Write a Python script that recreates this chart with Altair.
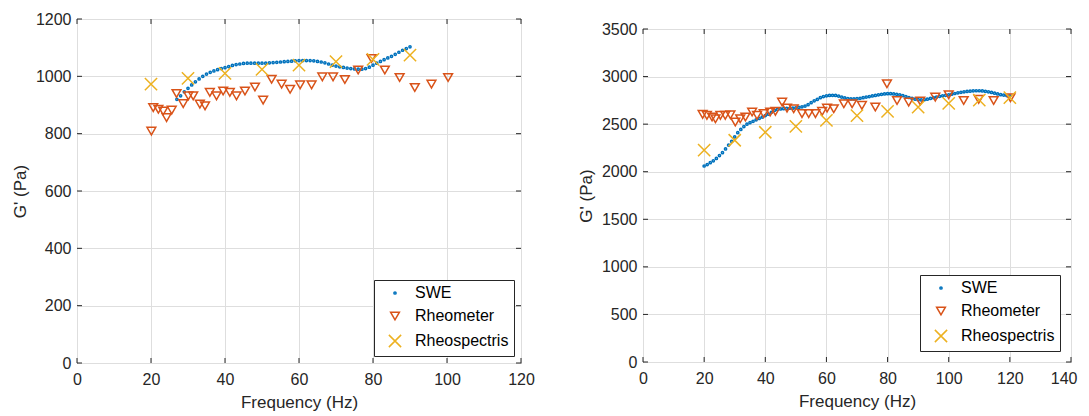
import altair as alt
import pandas as pd

SERIES = ["SWE", "Rheometer", "Rheospectris"]
COLORS = ["#0072BD", "#D95319", "#EDB120"]
SHAPES = ["circle", "triangle-down", "M-1,-1L1,1M1,-1L-1,1"]
SIZES = [5, 150, 105]

# ---------- left panel ----------
L_swe_f = [27, 28, 29, 30, 31, 32, 33, 34, 35, 36, 37, 38, 39, 40, 41, 42, 43, 44, 45, 46,
           47, 48, 49, 50, 51, 52, 53, 54, 55, 56, 57, 58, 59, 60, 61, 62, 63, 64, 65, 66,
           67, 68, 69, 70, 71, 72, 73, 74, 75, 76, 77, 78, 79, 80, 81, 82, 83, 84, 85, 86,
           87, 88, 89, 90]
L_swe_g = [920, 932, 946, 958, 970, 981, 991, 1000, 1008, 1014, 1019, 1023, 1027, 1030, 1034,
           1038, 1041, 1043, 1045, 1046, 1046, 1046, 1046, 1046, 1046, 1047, 1048, 1049, 1050,
           1051, 1052, 1053, 1054, 1055, 1055, 1055, 1055, 1054, 1052, 1050, 1047, 1043, 1039,
           1036, 1033, 1031, 1029, 1027, 1026, 1025, 1025, 1027, 1032, 1039, 1046, 1052, 1058,
           1064, 1070, 1077, 1084, 1091, 1097, 1103]
L_rheo_f = [20.1, 20.6, 22.0, 23.3, 24.2, 25.6, 26.9, 28.7, 30.1, 31.4, 33.2, 34.6, 35.9, 37.7,
            39.5, 41.3, 43.1, 45.4, 48.1, 50.3, 52.6, 55.3, 57.6, 60.3, 63.4, 66.3, 69.2, 72.4,
            76.0, 79.6, 83.2, 87.2, 91.3, 95.8, 100.3]
L_rheo_g = [809, 891, 885, 879, 856, 882, 940, 905, 932, 932, 903, 897, 944, 932, 949, 944, 932,
            949, 963, 917, 990, 973, 955, 970, 970, 998, 998, 989, 1022, 1062, 1022, 996, 961,
            973, 996]
L_spec_f = [20, 30, 40, 50, 60, 70, 80, 90]
L_spec_g = [973, 993, 1010, 1024, 1039, 1051, 1059, 1074]

# ---------- right panel ----------
R_swe_f = [20, 21, 22, 23, 24, 25, 26, 27, 28, 29, 30, 31, 32, 33, 34, 35, 36, 37, 38, 39,
           40, 41, 42, 43, 44, 45, 46, 47, 48, 49, 50, 51, 52, 53, 54, 55, 56, 57, 58, 59,
           60, 61, 62, 63, 64, 65, 66, 67, 68, 69, 70, 71, 72, 73, 74, 75, 76, 77, 78, 79,
           80, 81, 82, 83, 84, 85, 86, 87, 88, 89, 90, 91, 92, 93, 94, 95, 96, 97, 98, 99,
           100, 101, 102, 103, 104, 105, 106, 107, 108, 109, 110, 111, 112, 113, 114, 115,
           116, 117, 118, 119, 120]
R_swe_g = [2060, 2075, 2095, 2115, 2140, 2170, 2200, 2240, 2280, 2320, 2365, 2410, 2445, 2475,
           2500, 2515, 2530, 2545, 2560, 2575, 2590, 2605, 2625, 2645, 2655, 2660, 2662, 2665,
           2667, 2668, 2670, 2675, 2682, 2690, 2705, 2725, 2745, 2760, 2778, 2790, 2798, 2802,
           2803, 2802, 2795, 2785, 2775, 2768, 2765, 2765, 2767, 2772, 2778, 2784, 2790, 2796,
           2802, 2808, 2814, 2818, 2820, 2820, 2817, 2813, 2808, 2800, 2790, 2780, 2770, 2762,
           2757, 2755, 2757, 2762, 2770, 2778, 2785, 2792, 2798, 2803, 2808, 2815, 2822, 2829,
           2835, 2840, 2844, 2847, 2850, 2851, 2851, 2849, 2845, 2840, 2833, 2825, 2817, 2810,
           2805, 2800, 2798]
R_rheo_f = [19.5, 20.9, 22.6, 23.7, 25.3, 26.9, 28.6, 30.2, 31.8, 33.5, 35.7, 37.3, 39.5, 41.6,
            43.3, 45.5, 47.1, 49.3, 52.0, 54.2, 56.4, 58.6, 60.2, 62.4, 65.7, 68.4, 71.6, 76.0,
            79.8, 83.1, 86.9, 90.7, 95.6, 100.0, 104.9, 109.8, 114.7, 120.2]
R_rheo_g = [2603, 2592, 2575, 2557, 2592, 2592, 2599, 2523, 2557, 2575, 2628, 2592, 2610, 2628,
            2634, 2732, 2669, 2662, 2610, 2610, 2610, 2634, 2669, 2662, 2714, 2714, 2697, 2680,
            2924, 2749, 2732, 2743, 2784, 2809, 2749, 2760, 2749, 2777]
R_spec_f = [20, 30, 40, 50, 60, 70, 80, 90, 100, 110, 120]
R_spec_g = [2226, 2331, 2415, 2477, 2540, 2589, 2634, 2678, 2718, 2752, 2778]

X_TICKS_L = [0, 20, 40, 60, 80, 100, 120]
Y_TICKS_L = [0, 200, 400, 600, 800, 1000, 1200]
X_TICKS_R = [0, 20, 40, 60, 80, 100, 120, 140]
Y_TICKS_R = [0, 500, 1000, 1500, 2000, 2500, 3000, 3500]

FONT = "Liberation Sans"
TXT = "#262626"
TICK_LEN = 5


def make_df(sf, sg, rf, rg, pf, pg):
    rows = []
    for f, g in zip(sf, sg):
        rows.append({"f": f, "g": g, "s": "SWE", "o": 0})
    for f, g in zip(rf, rg):
        rows.append({"f": f, "g": g, "s": "Rheometer", "o": 1})
    for f, g in zip(pf, pg):
        rows.append({"f": f, "g": g, "s": "Rheospectris", "o": 2})
    return pd.DataFrame(rows)


def axis(values, title, lp, tp, edge=None):
    extra = {}
    if edge is not None:
        # keep the last label inside the page width
        extra = dict(
            labelAlign=alt.condition(f"datum.value == {edge}", alt.value("right"),
                                     alt.value("center")),
            labelOffset=alt.condition(f"datum.value == {edge}", alt.value(6),
                                      alt.value(0)),
        )
    return alt.Axis(values=values, title=title, grid=True, gridColor="#dedede",
                    gridWidth=1, tickSize=0, domain=False, labelPadding=lp,
                    labelFontSize=16, titleFontSize=17, labelFont=FONT,
                    titleFont=FONT, titleFontWeight="normal", labelColor=TXT,
                    titleColor=TXT, labelFlush=False, labelOverlap=False,
                    titlePadding=tp, format="d", **extra)


def panel(df, xt, yt, w, h, loff, edge=None):
    leg = alt.Legend(title=None, orient="bottom-right", offset=loff,
                     strokeColor="#262626", fillColor="white", padding=5,
                     labelFontSize=16, labelFont=FONT, labelColor="black",
                     rowPadding=7, symbolStrokeWidth=1.5, labelOffset=12,
                     symbolOffset=8, cornerRadius=0)
    xs = alt.Scale(domain=[xt[0], xt[-1]], nice=False)
    ys = alt.Scale(domain=[yt[0], yt[-1]], nice=False)
    xa = axis(xt, "Frequency (Hz)", 8, 7, edge)
    ya = axis(yt, "G' (Pa)", 6, 6)
    X = alt.X("f:Q", scale=xs, axis=xa, title="Frequency (Hz)")
    Y = alt.Y("g:Q", scale=ys, axis=ya, title="G' (Pa)")
    pts = alt.Chart(df).mark_point(filled=False, strokeWidth=1.5, opacity=1).encode(
        x=X, y=Y,
        color=alt.Color("s:N", scale=alt.Scale(domain=SERIES, range=COLORS), legend=leg),
        shape=alt.Shape("s:N", scale=alt.Scale(domain=SERIES, range=SHAPES), legend=leg),
        size=alt.Size("s:N", scale=alt.Scale(domain=SERIES, range=SIZES), legend=leg),
        order=alt.Order("o:Q"),
    )
    xdf = pd.DataFrame({"f": xt})
    ydf = pd.DataFrame({"g": yt})
    rule = dict(color=TXT, strokeWidth=1)
    xb = alt.Chart(xdf).mark_rule(**rule).encode(
        x=X, y=alt.value(h), y2=alt.value(h - TICK_LEN))
    xtp = alt.Chart(xdf).mark_rule(**rule).encode(
        x=X, y=alt.value(0), y2=alt.value(TICK_LEN))
    yl = alt.Chart(ydf).mark_rule(**rule).encode(
        y=Y, x=alt.value(0), x2=alt.value(TICK_LEN))
    yr = alt.Chart(ydf).mark_rule(**rule).encode(
        y=Y, x=alt.value(w - TICK_LEN), x2=alt.value(w))
    return alt.layer(pts, xb, xtp, yl, yr).properties(width=w, height=h)


left = panel(make_df(L_swe_f, L_swe_g, L_rheo_f, L_rheo_g, L_spec_f, L_spec_g),
             X_TICKS_L, Y_TICKS_L, 444, 344, 7)
right = panel(make_df(R_swe_f, R_swe_g, R_rheo_f, R_rheo_g, R_spec_f, R_spec_g),
              X_TICKS_R, Y_TICKS_R, 428, 333, 11, edge=X_TICKS_R[-1])

# thin empty spacer above the right panel (its frame starts lower than the left one)
spacer = alt.Chart(pd.DataFrame({"a": [0]})).mark_point(opacity=0, size=0, strokeWidth=0).encode(
    x=alt.value(0), y=alt.value(0)
).properties(width=428, height=1, view=alt.ViewBackground(strokeOpacity=0))

IND = dict(color="independent", shape="independent", size="independent",
           x="independent", y="independent")

right_col = alt.vconcat(spacer, right, spacing=0).resolve_scale(**IND).resolve_legend(
    color="independent", shape="independent", size="independent")

chart = alt.hconcat(left, right_col, spacing=41).resolve_scale(**IND).resolve_legend(
    color="independent", shape="independent", size="independent").configure_view(
    stroke="#262626", strokeWidth=1).properties(
    padding={"left": 2, "top": 2, "right": 0, "bottom": 0}, background="white")

chart.save("out.html", embed_options={"renderer": "svg", "actions": False})
